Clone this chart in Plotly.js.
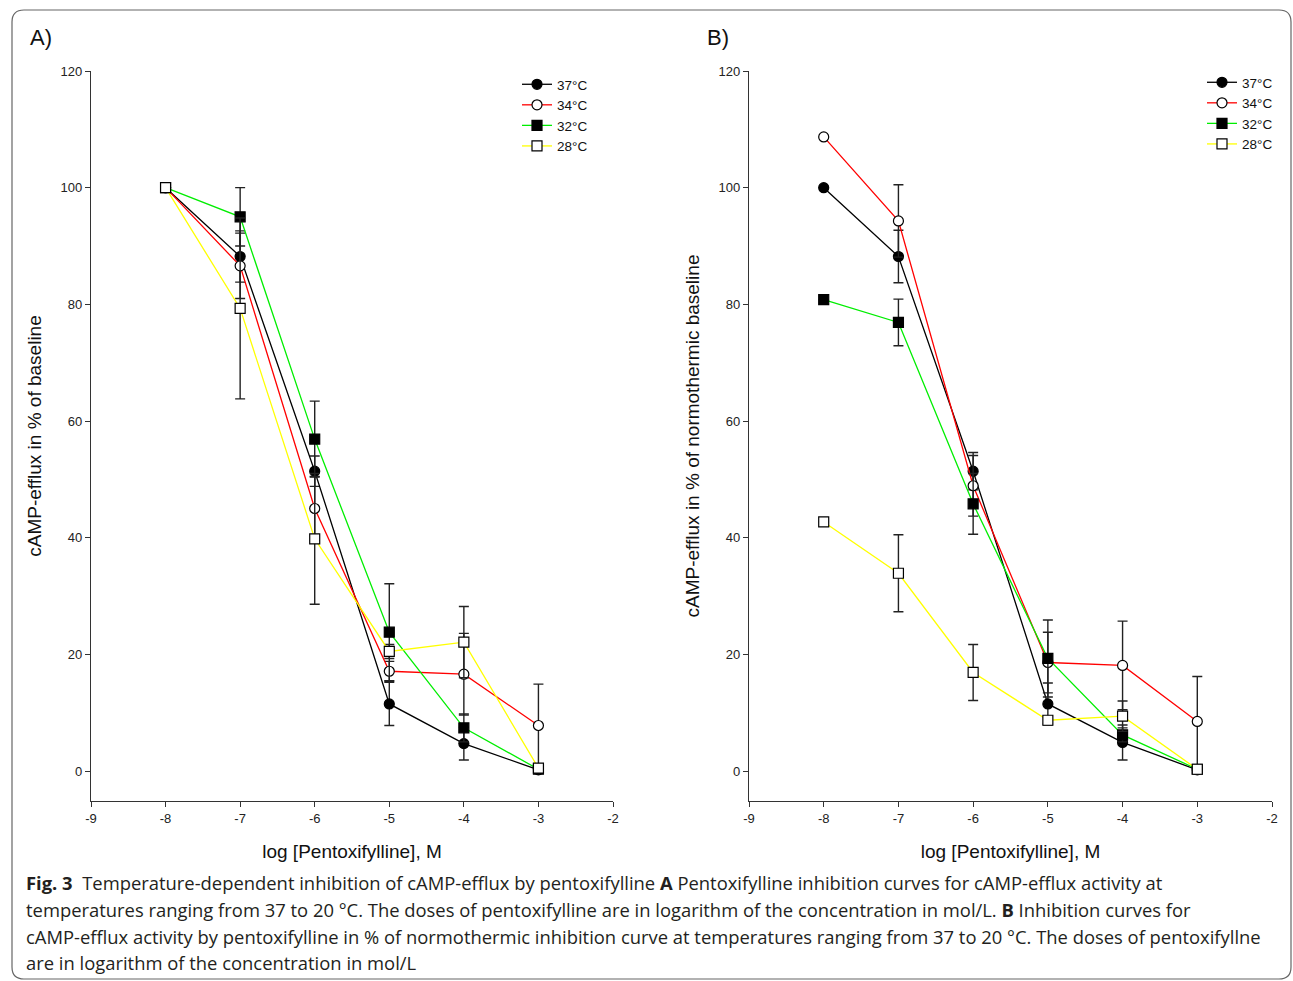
<!DOCTYPE html>
<html>
<head>
<meta charset="utf-8">
<script src="https://cdn.plot.ly/plotly-3.0.1.min.js"></script>
<style>html,body{margin:0;padding:0;background:#fff;}#chart{width:1293px;height:981px;}</style>
</head>
<body>
<div id="chart"></div>
<script>
// log [Pentoxifylline], M
const dose = [-8, -7, -6, -5, -4, -3];
const seriesNames = ['37°C', '34°C', '32°C', '28°C'];

// Panel A: cAMP-efflux in % of baseline
const a37 = [100, 88.2, 51.4, 11.5, 4.7, 0.2];
const a37err = [0, 4.4, 2.6, 3.7, 2.8, 0.3];
const a34 = [100, 86.6, 45.0, 17.1, 16.6, 7.8];
const a34err = [0, 5.6, 5.5, 1.7, 7.0, 7.1];
const a32 = [100, 95.0, 56.9, 23.8, 7.4, 0.3];
const a32err = [0, 5.0, 6.5, 8.3, 2.4, 0.3];
const a28 = [100, 79.3, 39.8, 20.5, 22.1, 0.5];
const a28err = [0, 15.5, 11.2, 1.2, 6.1, 0.3];

// Panel B: cAMP-efflux in % of normothermic baseline
const b37 = [100, 88.2, 51.4, 11.5, 4.9, 0.2];
const b37err = [0, 4.5, 3.2, 3.6, 3.0, 0.3];
const b34 = [108.7, 94.3, 48.9, 18.6, 18.1, 8.5];
const b34err = [0, 6.2, 5.2, 5.2, 7.6, 7.7];
const b32 = [80.8, 76.9, 45.8, 19.3, 6.2, 0.3];
const b32err = [0, 4.0, 5.2, 6.6, 1.2, 0.3];
const b28 = [42.7, 33.9, 16.9, 8.7, 9.4, 0.3];
const b28err = [0, 6.6, 4.8, 0.6, 2.6, 0.3];

const xTicks = [-9, -8, -7, -6, -5, -4, -3, -2];
const yTicks = [0, 20, 40, 60, 80, 100, 120];

const lineColors = ['#000000', '#ff0000', '#00ee00', '#ffff00'];
const symbols = ['circle', 'circle', 'square', 'square'];
const fills = ['#000000', '#ffffff', '#000000', '#ffffff'];

function mk(y, err, i, xa, ya, lg) {
  return {
    x: dose, y: y, type: 'scatter', mode: 'lines+markers',
    name: seriesNames[i], xaxis: xa, yaxis: ya, legend: lg,
    line: {color: lineColors[i], width: 1.3},
    marker: {symbol: symbols[i], size: 10, color: fills[i],
             line: {color: '#000000', width: 1.2}},
    error_y: {type: 'data', array: err, visible: true, color: '#222222', thickness: 1.4, width: 5},
    cliponaxis: false
  };
}

const data = [
  mk(a37, a37err, 0, 'x', 'y', 'legend'),
  mk(a34, a34err, 1, 'x', 'y', 'legend'),
  mk(a32, a32err, 2, 'x', 'y', 'legend'),
  mk(a28, a28err, 3, 'x', 'y', 'legend'),
  mk(b37, b37err, 0, 'x2', 'y2', 'legend2'),
  mk(b34, b34err, 1, 'x2', 'y2', 'legend2'),
  mk(b32, b32err, 2, 'x2', 'y2', 'legend2'),
  mk(b28, b28err, 3, 'x2', 'y2', 'legend2')
];

const W = 1293, H = 981;
const px = v => v / W;
const py = v => 1 - v / H;

const axFont = {family: 'Liberation Sans, Arial, sans-serif', size: 13, color: '#222'};
const titleFont = {family: 'Liberation Sans, Arial, sans-serif', size: 19, color: '#111'};

function xaxis(d0, d1, anchor) {
  return {domain: [px(d0), px(d1)], anchor: anchor, range: [-9, -2], tickvals: xTicks,
    ticktext: xTicks.map(String), ticks: 'outside', ticklen: 5, tickwidth: 1, tickcolor: '#333',
    showline: true, linecolor: '#333', linewidth: 1.2, showgrid: false, zeroline: false,
    tickfont: axFont, fixedrange: true,
    title: {text: 'log [Pentoxifylline], M', font: titleFont, standoff: 20}};
}
function yaxis(anchor, title) {
  return {domain: [1 - 801 / H, 1 - 71 / H], anchor: anchor, range: [-5.14, 120], tickvals: yTicks,
    ticks: 'outside', ticklen: 5, tickwidth: 1, tickcolor: '#333',
    showline: true, linecolor: '#333', linewidth: 1.2, showgrid: false, zeroline: false,
    tickfont: axFont, fixedrange: true,
    title: {text: title, font: titleFont, standoff: 13}};
}

const captionFont = {family: 'Open Sans, sans-serif', size: 18.4, color: '#231f20'};
const captionLines = [
  '<b>Fig. 3</b>  Temperature-dependent inhibition of cAMP-efflux by pentoxifylline <b>A</b> Pentoxifylline inhibition curves for cAMP-efflux activity at',
  'temperatures ranging from 37 to 20 °C. The doses of pentoxifylline are in logarithm of the concentration in mol/L. <b>B</b> Inhibition curves for',
  'cAMP-efflux activity by pentoxifylline in % of normothermic inhibition curve at temperatures ranging from 37 to 20 °C. The doses of pentoxifyllne',
  'are in logarithm of the concentration in mol/L'
];
const captionY = [882, 909, 936, 962];

const annotations = [
  {text: 'A)', xref: 'paper', yref: 'paper', x: px(28), y: py(38), xanchor: 'left', yanchor: 'middle', showarrow: false,
   font: {family: 'Liberation Sans, Arial, sans-serif', size: 22, color: '#111'}},
  {text: 'B)', xref: 'paper', yref: 'paper', x: px(705), y: py(38), xanchor: 'left', yanchor: 'middle', showarrow: false,
   font: {family: 'Liberation Sans, Arial, sans-serif', size: 22, color: '#111'}}
].concat(captionLines.map((t, i) => ({
  text: t, xref: 'paper', yref: 'paper', x: px(24), y: py(captionY[i]), xanchor: 'left', yanchor: 'middle',
  showarrow: false, font: captionFont
})));

const x0 = px(12), x1 = px(1291), yT = py(10), yB = py(979);
const rx = px(12), ry = 12 / H;
const framePath = `M ${x0} ${yB + ry} L ${x0} ${yT - ry} Q ${x0} ${yT} ${x0 + rx} ${yT} L ${x1 - rx} ${yT} Q ${x1} ${yT} ${x1} ${yT - ry} L ${x1} ${yB + ry} Q ${x1} ${yB} ${x1 - rx} ${yB} L ${x0 + rx} ${yB} Q ${x0} ${yB} ${x0} ${yB + ry} Z`;

const legFont = {family: 'Liberation Sans, Arial, sans-serif', size: 13.5, color: '#111'};

const layout = {
  width: W, height: H, margin: {l: 0, r: 0, t: 0, b: 0},
  paper_bgcolor: '#ffffff', plot_bgcolor: 'rgba(0,0,0,0)', showlegend: true,
  xaxis: xaxis(91, 613, 'y'),
  yaxis: yaxis('x', 'cAMP-efflux in % of baseline'),
  xaxis2: xaxis(749, 1272, 'y2'),
  yaxis2: yaxis('x2', 'cAMP-efflux in % of normothermic baseline'),
  legend: {x: px(517), y: py(69), xanchor: 'left', yanchor: 'top', bgcolor: 'rgba(0,0,0,0)', font: legFont,
           tracegroupgap: 0, itemwidth: 30},
  legend2: {x: px(1202), y: py(67), xanchor: 'left', yanchor: 'top', bgcolor: 'rgba(0,0,0,0)', font: legFont,
            tracegroupgap: 0, itemwidth: 30},
  annotations: annotations,
  shapes: [{type: 'path', xref: 'paper', yref: 'paper', path: framePath, line: {color: '#666', width: 1.2}, fillcolor: 'rgba(0,0,0,0)'}]
};

Plotly.newPlot('chart', data, layout, {staticPlot: true, displayModeBar: false});
</script>
</body>
</html>
